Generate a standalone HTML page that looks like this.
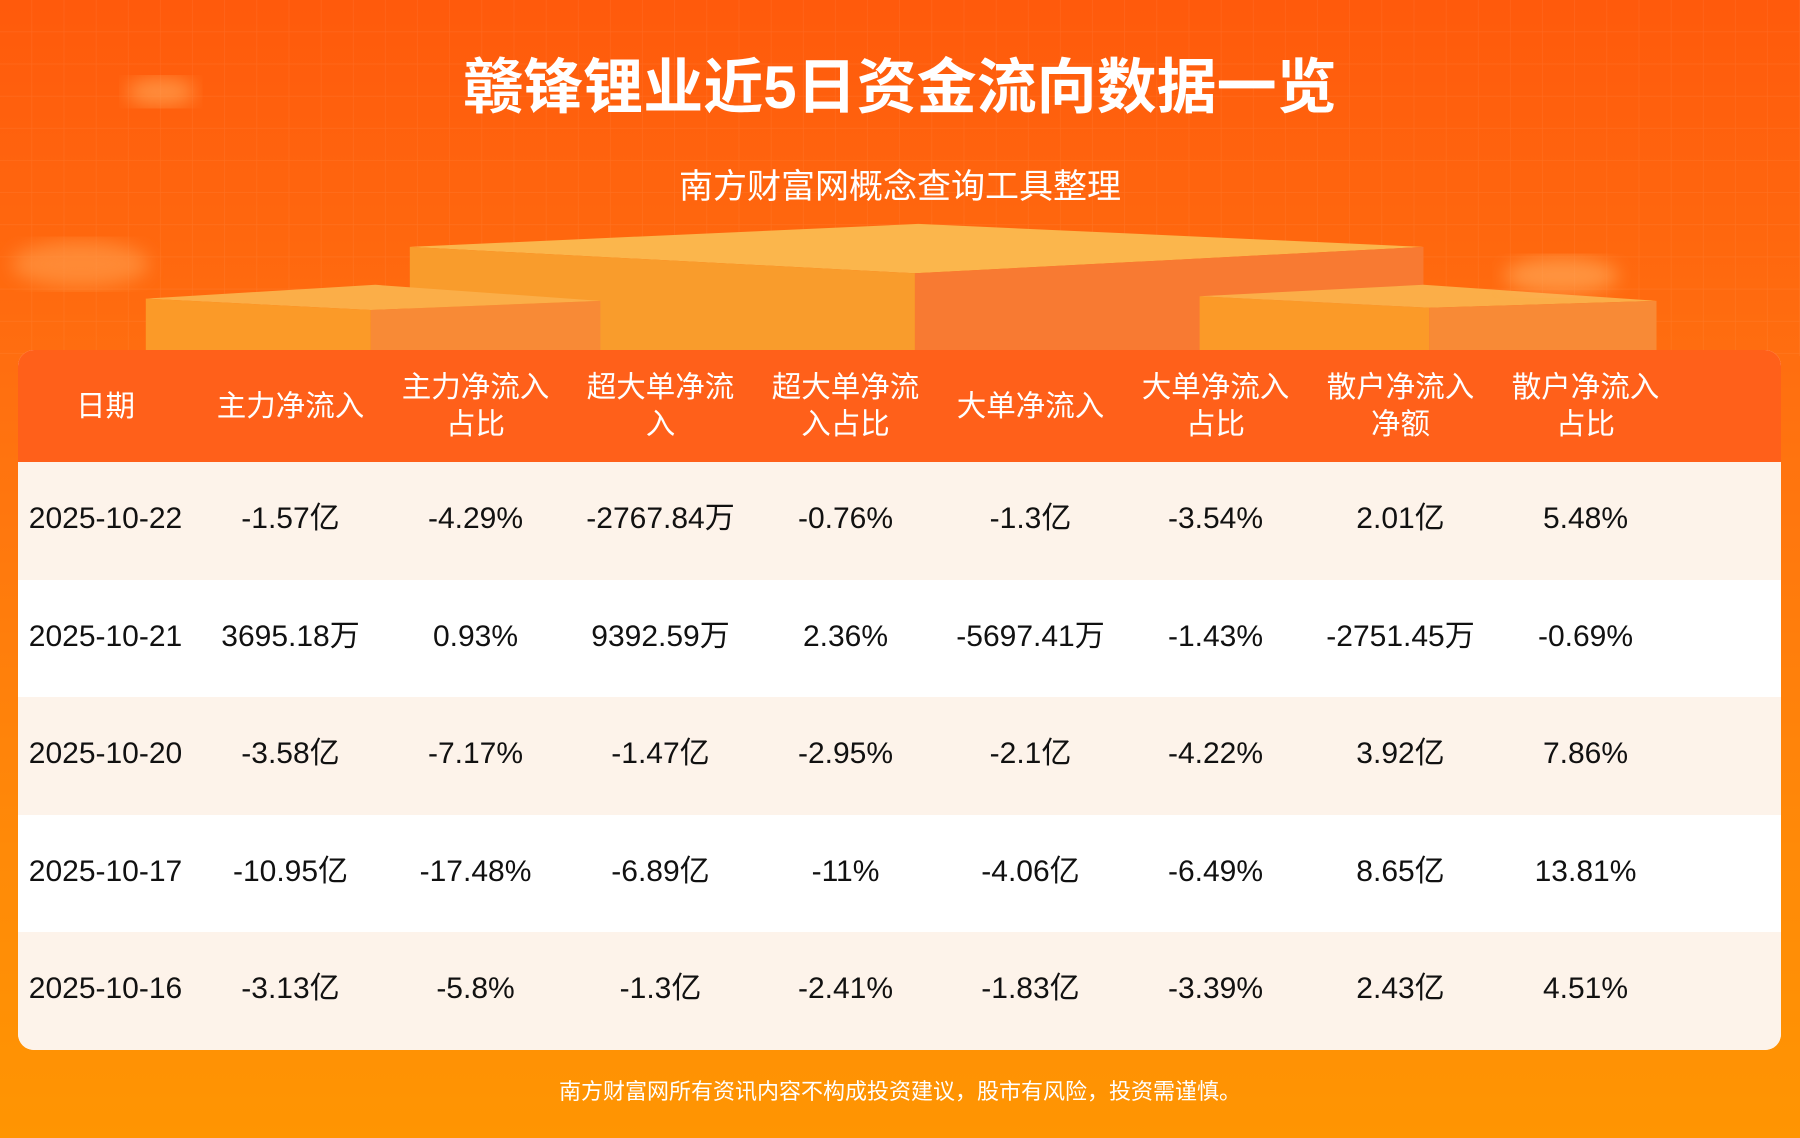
<!DOCTYPE html>
<html><head><meta charset="utf-8"><style>
body{margin:0;width:1800px;height:1138px;overflow:hidden;position:relative;font-family:"Liberation Sans","Noto Sans CJK SC",sans-serif;background:linear-gradient(180deg,#ff5a0c 0%,#ff7010 35%,#ff8a08 75%,#ff9502 100%);}
svg.bg{position:absolute;left:0;top:0}
.t{position:absolute;left:0;width:1800px;text-align:center;color:#fff}
.card{position:absolute;left:18px;top:350px;width:1763px;height:700px;border-radius:16px;overflow:hidden;background:#fff}
.hd{height:112px;background:#ff601a;display:flex;color:#fff;font-size:29.5px;line-height:37px;margin-left:-5px}
.c{width:185px;display:flex;align-items:center;justify-content:center;text-align:center;flex:none}
.row{height:117.6px;display:flex;font-size:30px;color:#111;margin-left:-5px}
.row .c{display:block;line-height:114px;height:117.6px;white-space:nowrap}
.rows .row:nth-child(odd){background:#fdf3ea}
.rows .row:nth-child(even){background:#fff}
.rows{overflow:hidden}
.row{padding-right:10px}
</style></head><body>
<svg class="bg" width="1800" height="1138" viewBox="0 0 1568 991" preserveAspectRatio="none">
<defs><pattern id="g" width="28" height="28" patternUnits="userSpaceOnUse"><path d="M28 0V28H0" fill="none" stroke="#ffffff" stroke-opacity="0.08"/></pattern>
<filter id="b"><feGaussianBlur stdDeviation="8"/></filter></defs>
<rect width="1568" height="310" fill="url(#g)"/>
<polygon points="357,215 800,195 1240,215 797,238" fill="#fbb64c"/>
<polygon points="357,215 797,238 797,305 357,305" fill="#f99c2c"/>
<polygon points="797,238 1240,215 1240,305 797,305" fill="#f87a32"/>
<polygon points="127,260 327,248 523,262 323,270" fill="#fbae48"/>
<polygon points="127,260 323,270 323,305 127,305" fill="#fb9a28"/>
<polygon points="323,270 523,262 523,305 323,305" fill="#f88a36"/>
<polygon points="1045,258 1240,248 1443,262 1245,268" fill="#fbae48"/>
<polygon points="1045,258 1245,268 1245,305 1045,305" fill="#fb9a28"/>
<polygon points="1245,268 1443,262 1443,305 1245,305" fill="#f88a36"/>
<ellipse cx="140" cy="80" rx="30" ry="12" fill="#ffb060" opacity="0.6" filter="url(#b)"/>
<ellipse cx="70" cy="230" rx="60" ry="20" fill="#ffa050" opacity="0.6" filter="url(#b)"/>
<ellipse cx="1360" cy="240" rx="50" ry="16" fill="#ffb060" opacity="0.6" filter="url(#b)"/>
</svg>
<div class="t" style="top:50px;font-size:60px;font-weight:bold;line-height:76px">赣锋锂业近5日资金流向数据一览</div>
<div class="t" style="top:165px;font-size:34px;line-height:44px">南方财富网概念查询工具整理</div>
<div class="card">
<div class="hd"><div class="c">日期</div><div class="c">主力净流入</div><div class="c">主力净流入<br>占比</div><div class="c">超大单净流<br>入</div><div class="c">超大单净流<br>入占比</div><div class="c">大单净流入</div><div class="c">大单净流入<br>占比</div><div class="c">散户净流入<br>净额</div><div class="c">散户净流入<br>占比</div></div>
<div class="rows">
<div class="row"><div class="c">2025-10-22</div><div class="c">-1.57亿</div><div class="c">-4.29%</div><div class="c">-2767.84万</div><div class="c">-0.76%</div><div class="c">-1.3亿</div><div class="c">-3.54%</div><div class="c">2.01亿</div><div class="c">5.48%</div></div>
<div class="row"><div class="c">2025-10-21</div><div class="c">3695.18万</div><div class="c">0.93%</div><div class="c">9392.59万</div><div class="c">2.36%</div><div class="c">-5697.41万</div><div class="c">-1.43%</div><div class="c">-2751.45万</div><div class="c">-0.69%</div></div>
<div class="row"><div class="c">2025-10-20</div><div class="c">-3.58亿</div><div class="c">-7.17%</div><div class="c">-1.47亿</div><div class="c">-2.95%</div><div class="c">-2.1亿</div><div class="c">-4.22%</div><div class="c">3.92亿</div><div class="c">7.86%</div></div>
<div class="row"><div class="c">2025-10-17</div><div class="c">-10.95亿</div><div class="c">-17.48%</div><div class="c">-6.89亿</div><div class="c">-11%</div><div class="c">-4.06亿</div><div class="c">-6.49%</div><div class="c">8.65亿</div><div class="c">13.81%</div></div>
<div class="row"><div class="c">2025-10-16</div><div class="c">-3.13亿</div><div class="c">-5.8%</div><div class="c">-1.3亿</div><div class="c">-2.41%</div><div class="c">-1.83亿</div><div class="c">-3.39%</div><div class="c">2.43亿</div><div class="c">4.51%</div></div>
</div></div>
<div class="t" style="top:1077px;font-size:22px;line-height:30px">南方财富网所有资讯内容不构成投资建议，股市有风险，投资需谨慎。</div>
</body></html>
